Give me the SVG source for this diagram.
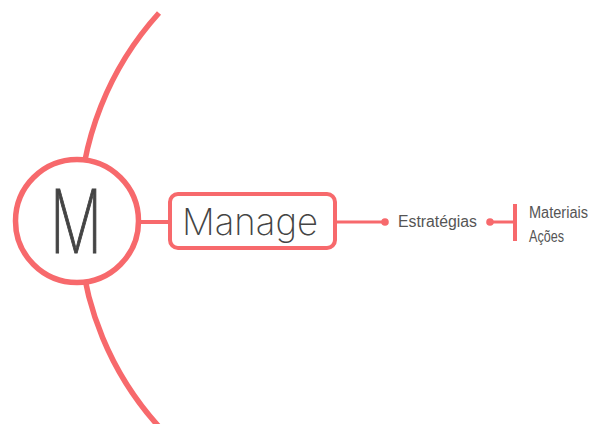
<svg xmlns="http://www.w3.org/2000/svg" width="593" height="424" viewBox="0 0 593 424">
  <style>
    .ln { fill: none; stroke: #f7696c; stroke-linecap: butt; }
    .dot { fill: #f7696c; }
    .big { font-family: Inter, "DejaVu Sans", sans-serif; font-weight: 200; fill: #444444; }
    .lbl { font-family: "Liberation Sans", "DejaVu Sans", sans-serif; fill: #555555; font-size: 16px; }
  </style>
  <rect width="593" height="424" fill="#ffffff"/>
  <g id="connectors">
    <path class="ln" stroke-width="5.5" d="M 159 13 A 308 308 0 0 0 162 430"/>
    <line class="ln" stroke-width="4" x1="138" y1="222" x2="170" y2="222"/>
    <line class="ln" stroke-width="3" x1="335" y1="222" x2="385" y2="222"/>
    <circle class="dot" cx="385" cy="222" r="3.8"/>
    <line class="ln" stroke-width="3" x1="490" y1="222" x2="515" y2="222"/>
    <circle class="dot" cx="490" cy="222" r="3.8"/>
    <line class="ln" stroke-width="4" stroke-linecap="round" x1="515" y1="204" x2="515" y2="241"/>
  </g>
  <g id="node-m">
    <circle cx="77" cy="221" r="61.5" fill="#ffffff" stroke="#f7696c" stroke-width="5.5"/>
    <text class="big" x="50" y="253" font-size="88" stroke="#444444" stroke-width="1.2" textLength="52" lengthAdjust="spacingAndGlyphs">M</text>
  </g>
  <g id="node-manage">
    <rect x="170" y="194" width="165" height="54" rx="8" fill="#ffffff" stroke="#f7696c" stroke-width="4"/>
    <text class="big" x="182" y="235" font-size="37" font-weight="300" textLength="136" lengthAdjust="spacingAndGlyphs">Manage</text>
  </g>
  <g id="node-estrategias">
    <text class="lbl" x="398" y="227" textLength="79" lengthAdjust="spacingAndGlyphs">Estratégias</text>
  </g>
  <g id="node-materiais">
    <text class="lbl" x="529" y="218" font-size="15" textLength="59" lengthAdjust="spacingAndGlyphs">Materiais</text>
  </g>
  <g id="node-acoes">
    <text class="lbl" x="529" y="242" font-size="17" textLength="35" lengthAdjust="spacingAndGlyphs">Ações</text>
  </g>
</svg>
